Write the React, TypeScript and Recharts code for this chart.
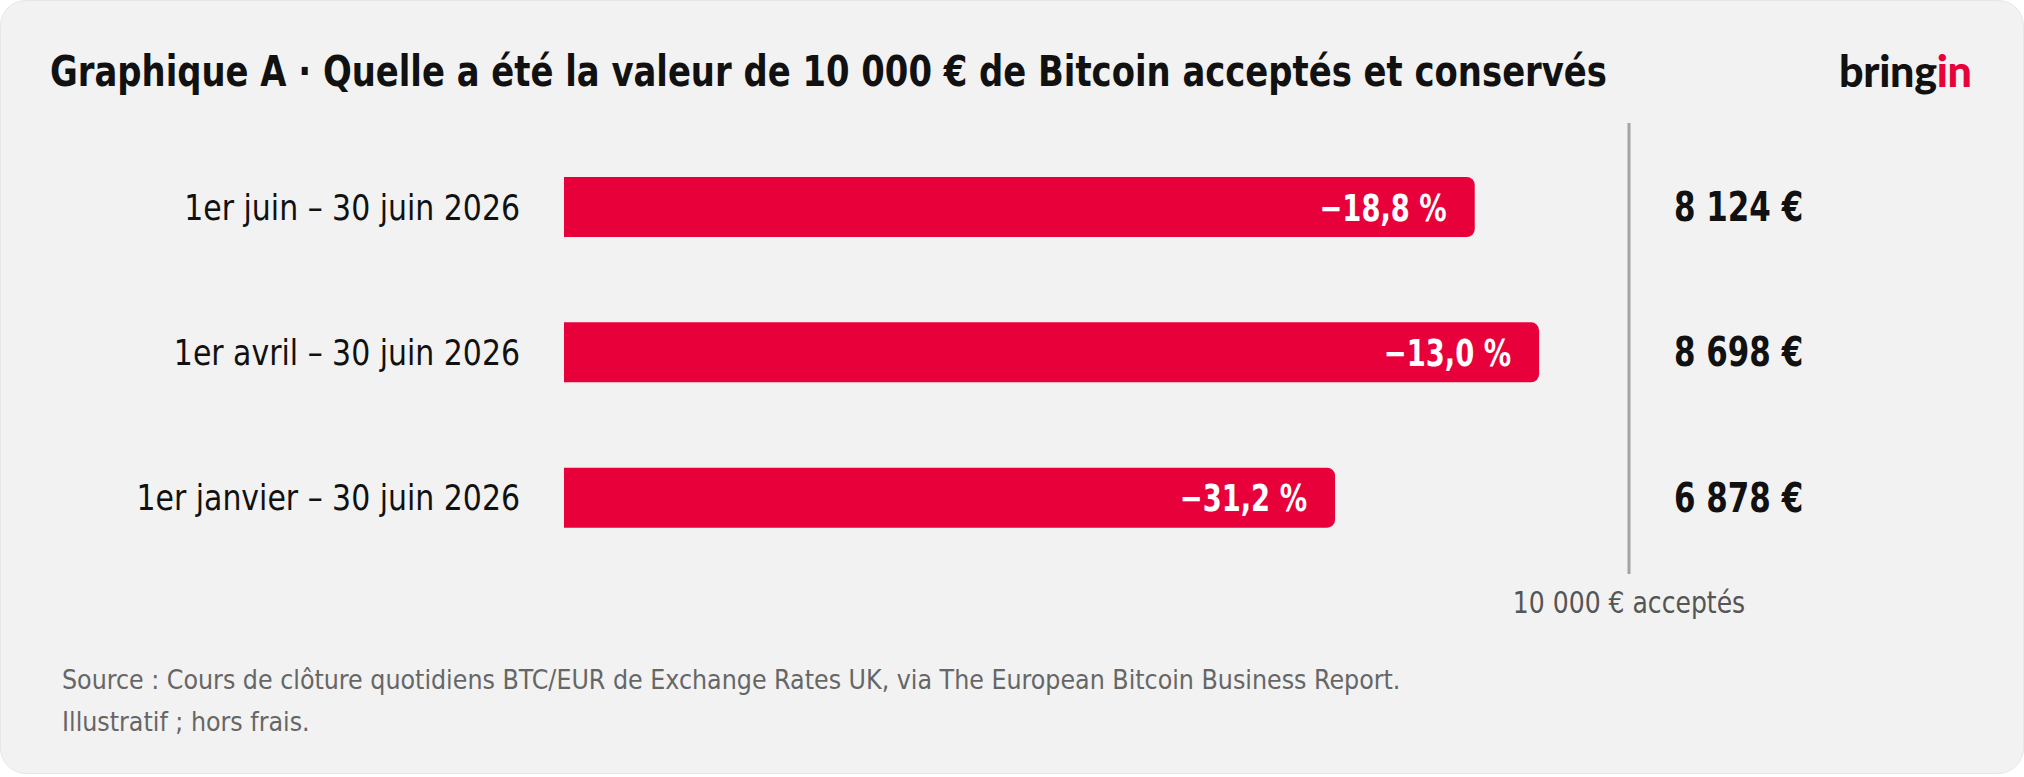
import {
  BarChart, Bar, XAxis, YAxis, ReferenceLine, LabelList
} from 'recharts'

const periods = ['1er juin – 30 juin 2026', '1er avril – 30 juin 2026', '1er janvier – 30 juin 2026']
const values = [8124, 8698, 6878]
const changes = [-18.8, -13.0, -31.2]
const scaleMax = 9500

const RED = '#e8003a'
// no narrow font installed, so condensed text is squeezed with scaleX
const FONT = "'DejaVu Sans Condensed', 'DejaVu Sans', sans-serif"

const euro = (v: number) => `${String(v).replace(/\B(?=(\d{3})+(?!\d))/g, ' ')} €`
const pct = (v: number) => `${v < 0 ? '−' : ''}${Math.abs(v).toFixed(1).replace('.', ',')} %`

const data = periods.map((period, i) => ({
  period,
  value: values[i],
  change: changes[i],
  valueLabel: euro(values[i]),
}))

const PeriodTick = ({ x, y, payload }: any) => (
  <text
    transform={`translate(${x},${y}) scale(0.925,1)`}
    dy="0.36em"
    textAnchor="end"
    fontSize={36}
    fill="#111"
    fontFamily={FONT}
  >
    {payload.value}
  </text>
)

const ValueTick = ({ x, y, payload }: any) => (
  <text
    transform={`translate(${x},${y}) scale(0.86,1)`}
    dy="0.36em"
    textAnchor="start"
    fontSize={40}
    fontWeight={700}
    fill="#111"
    fontFamily={FONT}
  >
    {payload.value}
  </text>
)

const ChangeLabel = ({ x, y, width, height, value }: any) => (
  <text
    transform={`translate(${x + width - 28},${y + height / 2}) scale(0.8,1)`}
    dy="0.36em"
    textAnchor="end"
    fontSize={38}
    fontWeight={700}
    fill="#fff"
    fontFamily={FONT}
  >
    {pct(Number(value))}
  </text>
)

const AcceptedLabel = ({ viewBox }: any) => (
  <text
    transform={`translate(${viewBox.x},${viewBox.y + viewBox.height + 32}) scale(0.9,1)`}
    dy="0.36em"
    textAnchor="middle"
    fontSize={31}
    fill="#555"
    fontFamily={FONT}
  >
    10 000 € acceptés
  </text>
)

export default function App() {
  return (
    <div style={{ position: 'absolute', left: 0, top: 0, width: 2024, height: 777, background: '#fff' }}>
      <div style={{
        position: 'absolute', left: 0, top: 0, width: 2024, height: 774,
        background: '#f2f2f2', borderRadius: 26, border: '1px solid #e6e6e6', boxSizing: 'border-box'
      }} />
      <div style={{
        position: 'absolute', left: 50, top: 46, fontFamily: FONT, fontWeight: 700,
        fontSize: 43, color: '#111', whiteSpace: 'nowrap', lineHeight: '50px',
        transform: 'scaleX(0.875)', transformOrigin: 'left center'
      }}>
        Graphique A · Quelle a été la valeur de 10 000 € de Bitcoin acceptés et conservés
      </div>
      <div style={{
        position: 'absolute', left: 1839, top: 46, fontFamily: 'Lato, sans-serif', fontWeight: 900,
        fontSize: 43, color: '#111', lineHeight: '50px', letterSpacing: -0.3
      }}>
        bring<span style={{ color: RED }}>in</span>
      </div>

      <div style={{ position: 'absolute', left: 0, top: 0 }}>
        <BarChart
          width={2024}
          height={777}
          data={data}
          layout="vertical"
          margin={{ top: 134, right: 0, left: 0, bottom: 207 }}
          barCategoryGap={0}
        >
          <XAxis type="number" domain={[0, scaleMax]} hide />
          <YAxis
            yAxisId="left"
            type="category"
            dataKey="period"
            width={564}
            axisLine={false}
            tickLine={false}
            tickSize={0}
            tickMargin={44}
            tick={<PeriodTick />}
          />
          <YAxis
            yAxisId="right"
            orientation="right"
            type="category"
            dataKey="valueLabel"
            width={395}
            axisLine={false}
            tickLine={false}
            tickSize={0}
            tickMargin={45}
            tick={<ValueTick />}
          />
          <ReferenceLine
            yAxisId="left"
            x={scaleMax}
            stroke="#a4a4a4"
            strokeWidth={3}
            shape={(p: any) => (
              <line x1={p.x1} y1={p.y1 + 4} x2={p.x2} y2={p.y2 - 11} stroke="#a4a4a4" strokeWidth={3} />
            )}
            label={<AcceptedLabel />}
          />
          <Bar
            yAxisId="left"
            dataKey="value"
            fill={RED}
            barSize={60}
            radius={[0, 8, 8, 0]}
            isAnimationActive={false}
          >
            <LabelList dataKey="change" content={<ChangeLabel />} />
          </Bar>
        </BarChart>
      </div>

      <div style={{
        position: 'absolute', left: 62, top: 659, fontFamily: FONT, fontSize: 27,
        color: '#666', lineHeight: '42px', whiteSpace: 'nowrap',
        transform: 'scaleX(0.98)', transformOrigin: 'left center'
      }}>
        Source : Cours de clôture quotidiens BTC/EUR de Exchange Rates UK, via The European Bitcoin Business Report.
        <br />
        Illustratif ; hors frais.
      </div>
    </div>
  )
}
